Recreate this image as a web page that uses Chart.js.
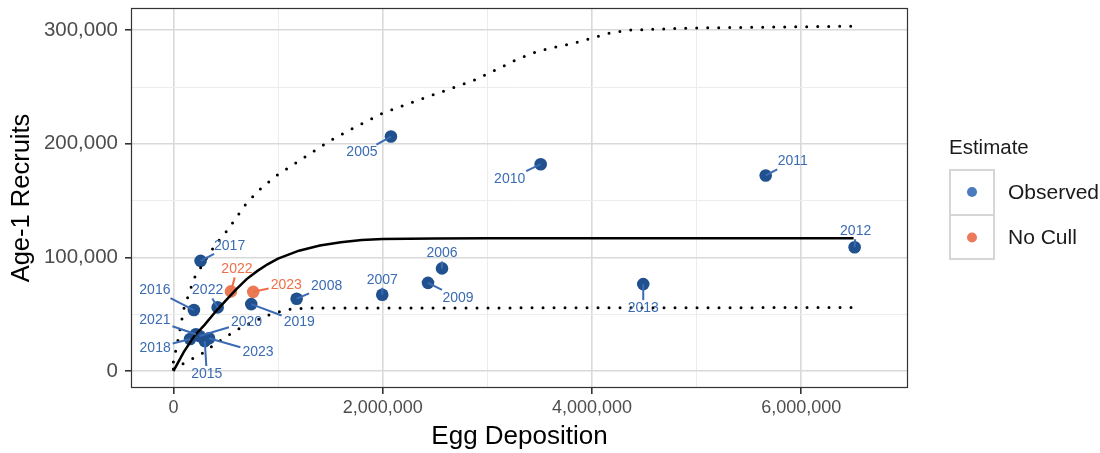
<!DOCTYPE html>
<html>
<head>
<meta charset="utf-8">
<script src="https://cdn.jsdelivr.net/npm/chart.js@4/dist/chart.umd.min.js"></script>
<style>
  html, body { margin: 0; padding: 0; background: #fff; }
</style>
</head>
<body>
<canvas id="myChart" width="1100" height="453"></canvas>
<script>
// observed recruitment points
const obsYears    = [2005, 2006, 2007, 2008, 2009, 2010, 2011, 2012, 2013, 2015, 2016, 2017, 2018, 2019, 2020, 2021, 2022, 2023];
const obsEggs     = [2079000, 2567000, 1996000, 1178000, 2433000, 3510000, 5660000, 6510000, 4490000, 300000, 196000, 260000, 160000, 744000, 250000, 215000, 423000, 340000];
const obsRecruits = [206400, 90400, 67200, 63700, 77700, 182100, 172200, 109000, 76600, 26600, 53800, 97000, 28300, 59000, 31000, 32500, 56100, 29000];

// "No Cull" scenario points
const noCullYears    = [2022, 2023];
const noCullEggs     = [550000, 763000];
const noCullRecruits = [70200, 69800];

// fitted stock-recruit curve and its bounds
const fitEggs     = [0, 100000, 200000, 300000, 400000, 500000, 600000, 700000, 800000, 900000, 1000000, 1200000, 1400000, 1600000, 1800000, 2000000, 2500000, 3000000, 6500000];
const fitRecruits = [0, 17000, 31000, 41000, 52000, 62000, 72000, 81000, 88000, 94000, 99000, 106000, 110500, 113500, 115300, 116200, 116800, 117000, 117000];

const upperEggs     = [0, 50000, 100000, 200000, 300000, 400000, 500000, 600000, 700000, 850000, 1000000, 1300000, 1500000, 1700000, 2000000, 2300000, 2600000, 2900000, 3100000, 3300000, 3500000, 3800000, 4000000, 4150000, 4350000, 5000000, 6500000];
const upperRecruits = [8000, 30000, 55000, 82000, 97000, 111000, 122000, 135000, 148000, 162000, 173000, 191000, 203000, 213000, 227000, 237000, 247000, 257000, 266000, 275000, 282000, 288000, 293000, 297000, 300000, 302000, 303500];

const lowerEggs     = [0, 100000, 200000, 300000, 400000, 500000, 600000, 700000, 800000, 900000, 1000000, 1100000, 1300000, 6500000];
const lowerRecruits = [2000, 7000, 12000, 17000, 24000, 30000, 36000, 41000, 45000, 49000, 52000, 54500, 55500, 56000];

// axis breaks
const xMajor = [0, 2000000, 4000000, 6000000];
const xMinor = [1000000, 3000000, 5000000];
const yMajor = [0, 100000, 200000, 300000];
const yMinor = [50000, 150000, 250000];

// label offsets (px) from each point, repel-style
const obsLabelDx = [-29, 0, 0, 30, 30, -31, 27, 1, 0, 2, -39, 29, -35, 48, 47, -41, -10, 49];
const obsLabelDy = [16, -15, -15, -13, 15, 15, -14, -16, 24, 33, -20, -15, 9, 18, -14, -14, -17, 14];
const noCullLabelDx = [6, 33];
const noCullLabelDy = [-22, -7];

const FONT = '"Liberation Sans", Arial, Helvetica, sans-serif';
const BLUE_PT = '#21508e';
const ORANGE_PT = '#ea7a55';
const BLUE_TXT = '#3a6bb3';
const ORANGE_TXT = '#ee6f47';

const xy = (xs, ys) => xs.map((v, i) => ({ x: v, y: ys[i] }));
const fmt = v => Math.round(v).toLocaleString('en-US');

const frame = {
  id: 'frame',
  beforeDatasetsDraw(chart) {
    const { ctx, chartArea: a } = chart;
    ctx.save();
    ctx.strokeStyle = '#333333';
    ctx.lineWidth = 1.2;
    ctx.strokeRect(a.left + 0.5, a.top + 0.5, a.right - a.left - 1, a.bottom - a.top - 1);
    ctx.restore();
  }
};

const yearLabels = {
  id: 'yearLabels',
  afterDatasetsDraw(chart) {
    const { ctx, scales: { x, y } } = chart;
    const groups = [
      { years: obsYears, eggs: obsEggs, rec: obsRecruits, dx: obsLabelDx, dy: obsLabelDy, color: BLUE_TXT },
      { years: noCullYears, eggs: noCullEggs, rec: noCullRecruits, dx: noCullLabelDx, dy: noCullLabelDy, color: ORANGE_TXT }
    ];
    ctx.save();
    ctx.font = '14px ' + FONT;
    ctx.textAlign = 'center';
    ctx.textBaseline = 'middle';
    groups.forEach(g => {
      g.years.forEach((yr, i) => {
        const px = x.getPixelForValue(g.eggs[i]);
        const py = y.getPixelForValue(g.rec[i]);
        const lx = px + g.dx[i], ly = py + g.dy[i];
        const txt = String(yr);
        const hw = ctx.measureText(txt).width / 2 + 2, hh = 8;
        const ddx = px - lx, ddy = py - ly;
        const tx = ddx !== 0 ? hw / Math.abs(ddx) : Infinity;
        const ty = ddy !== 0 ? hh / Math.abs(ddy) : Infinity;
        const t = Math.min(tx, ty);
        if (t < 1) {
          const ex = lx + ddx * t, ey = ly + ddy * t;
          if (Math.hypot(px - ex, py - ey) > 5) {
            ctx.strokeStyle = g.color;
            ctx.lineWidth = 2;
            ctx.beginPath();
            ctx.moveTo(px, py);
            ctx.lineTo(ex, ey);
            ctx.stroke();
          }
        }
        ctx.fillStyle = g.color;
        ctx.fillText(txt, lx, ly);
      });
    });
    ctx.restore();
  },
  afterDraw(chart) {
    // legend, ggplot style
    const { ctx } = chart;
    ctx.save();
    ctx.fillStyle = '#1a1a1a';
    ctx.font = '20.5px ' + FONT;
    ctx.textBaseline = 'middle';
    ctx.textAlign = 'left';
    ctx.fillText('Estimate', 949, 148);
    ctx.strokeStyle = '#d6d6d6';
    ctx.lineWidth = 2;
    ctx.strokeRect(950, 170, 44, 45);
    ctx.strokeRect(950, 215, 44, 44);
    ctx.font = '21px ' + FONT;
    [['Observed', '#4a7bbd', 192], ['No Cull', '#eb7a5c', 237.5]].forEach(([name, col, cy]) => {
      ctx.fillStyle = col;
      ctx.beginPath();
      ctx.arc(972, cy, 5, 0, Math.PI * 2);
      ctx.fill();
      ctx.fillStyle = '#1a1a1a';
      ctx.fillText(name, 1008, cy + 1);
    });
    ctx.restore();
  }
};

const gridOpts = (major) => ({
  color: c => major.includes(c.tick.value) ? '#d9d9d9' : '#ececec',
  lineWidth: c => major.includes(c.tick.value) ? 1.6 : 1,
  tickColor: c => major.includes(c.tick.value) ? '#333333' : 'rgba(0,0,0,0)',
  tickLength: 6,
  drawTicks: true
});

const canvas = document.getElementById('myChart');

const data = {
  datasets: [
    { label: 'upper', data: xy(upperEggs, upperRecruits), showLine: true, borderColor: '#000', borderWidth: 3, borderDash: [0, 11], borderCapStyle: 'round', pointRadius: 0, fill: false },
    { label: 'lower', data: xy(lowerEggs, lowerRecruits), showLine: true, borderColor: '#000', borderWidth: 3, borderDash: [0, 11], borderCapStyle: 'round', pointRadius: 0, fill: false },
    { label: 'fit', data: xy(fitEggs, fitRecruits), showLine: true, borderColor: '#000', borderWidth: 2.5, pointRadius: 0, fill: false },
    { label: 'Observed', data: xy(obsEggs, obsRecruits), backgroundColor: BLUE_PT, borderWidth: 0, pointRadius: 6.3 },
    { label: 'No Cull', data: xy(noCullEggs, noCullRecruits), backgroundColor: ORANGE_PT, borderWidth: 0, pointRadius: 6.3 }
  ]
};

const config = {
  type: 'scatter',
  data,
  options: {
    responsive: false,
    animation: false,
    layout: { padding: { left: 0, right: 192, top: 8, bottom: 0 } },
    plugins: { legend: { display: false }, tooltip: { enabled: false } },
    scales: {
      x: {
        type: 'linear',
        min: -405000,
        max: 7020000,
        afterBuildTicks: s => { s.ticks = [...xMajor, ...xMinor].sort((a, b) => a - b).map(v => ({ value: v })); },
        afterFit: s => { s.height = 65; s.paddingLeft = 0; s.paddingRight = 0; },
        grid: gridOpts(xMajor),
        border: { display: false },
        ticks: {
          color: '#4d4d4d',
          font: { family: FONT, size: 18 },
          padding: 3,
          maxRotation: 0,
          autoSkip: false,
          callback: v => xMajor.includes(v) ? fmt(v) : ''
        },
        title: { display: true, text: 'Egg Deposition', color: '#000', font: { family: FONT, size: 26 }, padding: { top: 0, bottom: 1 } }
      },
      y: {
        type: 'linear',
        min: -14800,
        max: 319500,
        afterBuildTicks: s => { s.ticks = [...yMajor, ...yMinor].sort((a, b) => a - b).map(v => ({ value: v })); },
        afterFit: s => { s.width = 131; s.paddingTop = 0; s.paddingBottom = 0; },
        grid: gridOpts(yMajor),
        border: { display: false },
        ticks: {
          color: '#4d4d4d',
          font: { family: FONT, size: 20.5 },
          padding: 7,
          autoSkip: false,
          callback: v => yMajor.includes(v) ? fmt(v) : ''
        },
        title: { display: true, text: 'Age-1 Recruits', color: '#000', font: { family: FONT, size: 25.5 }, padding: { top: 7, bottom: 0 } }
      }
    }
  },
  plugins: [frame, yearLabels]
};

const chart = new Chart(canvas, config);
</script>
</body>
</html>
